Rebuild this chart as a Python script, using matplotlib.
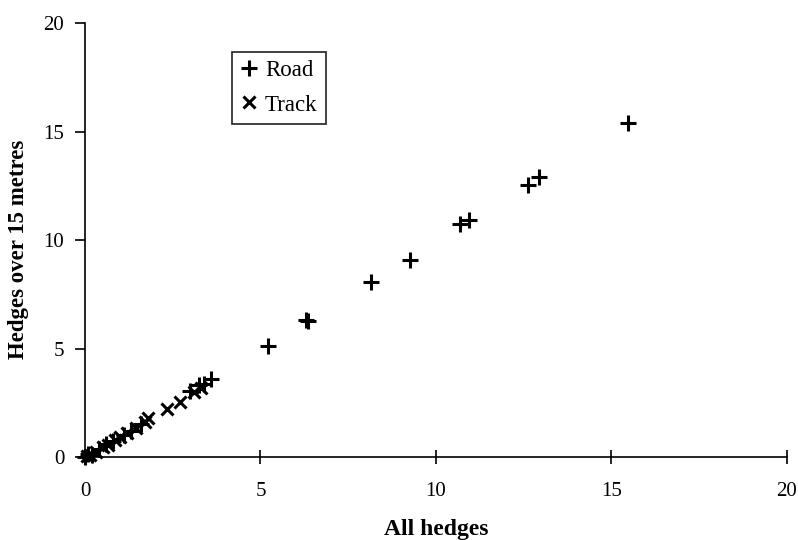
import matplotlib
matplotlib.use("Agg")
import matplotlib.pyplot as plt

# Road hedges: (all hedges, hedges over 15 m)
road_x = [0.0, 0.1, 0.2, 0.4, 0.6, 0.8, 1.1, 1.3, 1.6, 3.0, 3.25, 3.4, 3.6,
          5.22, 6.3, 6.35, 8.15, 9.25, 10.7, 10.94, 12.63, 12.93, 15.48]
road_y = [0.0, 0.15, 0.1, 0.35, 0.6, 0.75, 1.0, 1.2, 1.5, 3.05, 3.3, 3.35, 3.6,
          5.12, 6.3, 6.25, 8.05, 9.1, 10.72, 10.92, 12.53, 12.92, 15.38]

# Track hedges
track_x = [0.05, 0.15, 0.3, 0.5, 0.65, 0.85, 1.0, 1.2, 1.45, 1.7, 1.8,
           2.35, 2.7, 3.1, 3.3]
track_y = [0.05, 0.1, 0.25, 0.45, 0.55, 0.8, 0.9, 1.1, 1.35, 1.6, 1.8,
           2.2, 2.55, 3.0, 3.2]

ticks = [0, 5, 10, 15, 20]

plt.rcParams['font.family'] = ['Liberation Serif', 'DejaVu Serif']

fig = plt.figure(figsize=(7.98, 5.4), dpi=100)
ax = fig.add_axes([0.1065, 0.1537, 0.8795, 0.8037])

ax.plot(road_x, road_y, linestyle='none', marker='+', markersize=11,
        markeredgewidth=2.2, color='black', label='Road', clip_on=False)
ax.plot(track_x, track_y, linestyle='none', marker='x', markersize=9,
        markeredgewidth=2.2, color='black', label='Track', clip_on=False)

ax.set_xlim(0, 20)
ax.set_ylim(0, 20)
ax.set_xticks(ticks)
ax.set_yticks(ticks)

for side in ['top', 'right']:
    ax.spines[side].set_visible(False)
for side in ['left', 'bottom']:
    ax.spines[side].set_linewidth(1.2)
    ax.spines[side].set_color('black')

ax.tick_params(axis='x', direction='inout', length=10, width=1.2,
               labelsize=15, pad=13)
ax.tick_params(axis='y', direction='out', length=7, width=1.2,
               labelsize=15, pad=8)

ax.set_xlabel('All hedges', fontsize=17, fontweight='bold')
ax.set_ylabel('Hedges over 15 metres', fontsize=16.5, fontweight='bold')
ax.xaxis.set_label_coords(0.5, -0.143)
ax.yaxis.set_label_coords(-0.08, 0.479)

leg = ax.legend(loc='upper left', bbox_to_anchor=(0.209, 0.934),
                frameon=True, fancybox=False, fontsize=16.5,
                handlelength=0.8, handletextpad=0.3, borderpad=0.35,
                labelspacing=0.6, borderaxespad=0)
leg.get_frame().set_edgecolor('black')
leg.get_frame().set_linewidth(1.3)

fig.savefig('out.png', dpi=100)
